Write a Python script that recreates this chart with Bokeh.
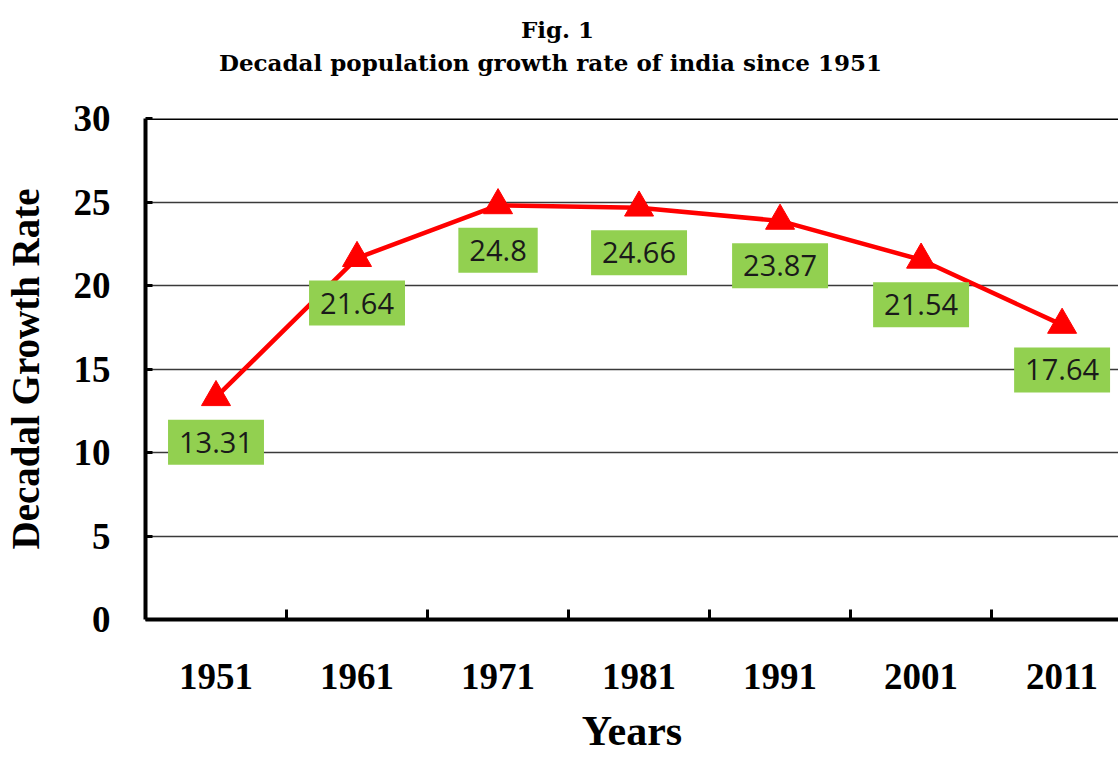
from bokeh.plotting import figure
from bokeh.layouts import column
from bokeh.models import ColumnDataSource, Label, FixedTicker, Span, Range1d
from bokeh.embed import file_html
from bokeh.resources import INLINE

# ---- data ----
years = ["1951", "1961", "1971", "1981", "1991", "2001", "2011"]
growth = [13.31, 21.64, 24.8, 24.66, 23.87, 21.54, 17.64]
y_ticks = [0, 5, 10, 15, 20, 25, 30]

title_line1 = "Fig. 1"
title_line2 = "Decadal population growth rate of india since 1951"
x_title = "Years"
y_title = "Decadal Growth Rate"

W, HEAD_H = 1118, 90
MAIN_H = 760 - HEAD_H

pos = list(range(len(years)))
src = ColumnDataSource(dict(x=pos, y=growth, label=[str(v) for v in growth]))

x_rng = Range1d(-0.5, len(years) - 0.6)

# ---- heading strip (title text), frame aligned with the chart below ----
head = figure(width=W, height=HEAD_H, output_backend="svg", toolbar_location=None,
              title=None, x_axis_location=None, y_axis_location=None,
              x_range=x_rng, y_range=Range1d(0, HEAD_H), min_border=0)
head.outline_line_color = None
head.grid.visible = False
TF = "DejaVu Serif"
for txt, dx, cy in [(title_line1, 412, HEAD_H - 29), (title_line2, 405, HEAD_H - 62)]:
    head.add_layout(Label(x=x_rng.start, y=cy, x_offset=dx, text=txt,
                          text_align="center", text_baseline="middle",
                          text_font=TF, text_font_style="bold", text_font_size="23px",
                          text_color="black"))

# ---- main chart ----
p = figure(width=W, height=MAIN_H, output_backend="svg", toolbar_location=None,
           title=None,
           x_range=x_rng, y_range=Range1d(y_ticks[0], y_ticks[-1]),
           min_border_left=145, min_border_right=0, min_border_bottom=141,
           min_border_top=118 - HEAD_H)
p.outline_line_color = None
p.background_fill_color = "white"
p.border_fill_color = "white"

SF = "Liberation Serif"

# x axis
p.xaxis.ticker = FixedTicker(ticks=pos, minor_ticks=[i + 0.5 for i in pos[:-1]])
p.xaxis.major_label_overrides = {i: y for i, y in zip(pos, years)}
p.xaxis.major_tick_line_color = None
p.xaxis.minor_tick_in = 10
p.xaxis.minor_tick_out = 0
p.xaxis.minor_tick_line_width = 3
p.xaxis.minor_tick_line_color = "black"
p.xaxis.axis_line_width = 4
p.xaxis.axis_line_color = "black"
p.xaxis.major_label_text_font = SF
p.xaxis.major_label_text_font_style = "bold"
p.xaxis.major_label_text_font_size = "37px"
p.xaxis.major_label_text_color = "black"
p.xaxis.major_label_standoff = 38
p.xaxis.axis_label = x_title
p.xaxis.axis_label_text_font = SF
p.xaxis.axis_label_text_font_style = "bold"
p.xaxis.axis_label_text_font_size = "42px"
p.xaxis.axis_label_text_color = "black"
p.xaxis.axis_label_standoff = 16

# y axis
p.yaxis.ticker = FixedTicker(ticks=y_ticks)
p.yaxis.major_tick_in = 7
p.yaxis.major_tick_out = 0
p.yaxis.major_tick_line_width = 3
p.yaxis.major_tick_line_color = "black"
p.yaxis.minor_tick_line_color = None
p.yaxis.axis_line_width = 4
p.yaxis.axis_line_color = "black"
p.yaxis.major_label_text_font = SF
p.yaxis.major_label_text_font_style = "bold"
p.yaxis.major_label_text_font_size = "37px"
p.yaxis.major_label_text_color = "black"
p.yaxis.major_label_standoff = 35
p.yaxis.axis_label = y_title
p.yaxis.axis_label_text_font = SF
p.yaxis.axis_label_text_font_style = "bold"
p.yaxis.axis_label_text_font_size = "39px"
p.yaxis.axis_label_text_color = "black"
p.yaxis.axis_label_standoff = 24

# grid
p.xgrid.grid_line_color = None
p.ygrid.ticker = FixedTicker(ticks=y_ticks)
p.ygrid.grid_line_color = "#3a3a3a"
p.ygrid.grid_line_width = 1.4

p.add_layout(Span(location=y_ticks[-1], dimension="width", line_color="black", line_width=3))

# data
p.line("x", "y", source=src, line_color="#FF0000", line_width=4.5)
p.scatter("x", "y", source=src, marker="triangle", size=29,
          fill_color="#FF0000", line_color="#FF0000")

for xi, yi, txt in zip(pos, growth, src.data["label"]):
    p.add_layout(Label(x=xi, y=yi, text=txt, y_offset=-45,
                       text_align="center", text_baseline="middle",
                       text_font="Open Sans", text_font_size="29px",
                       text_color="#1a1a1a", background_fill_color="#92D050",
                       padding=(11, 12)))

layout = column(head, p, spacing=0)
open("out.html", "w").write(file_html(layout, INLINE))
